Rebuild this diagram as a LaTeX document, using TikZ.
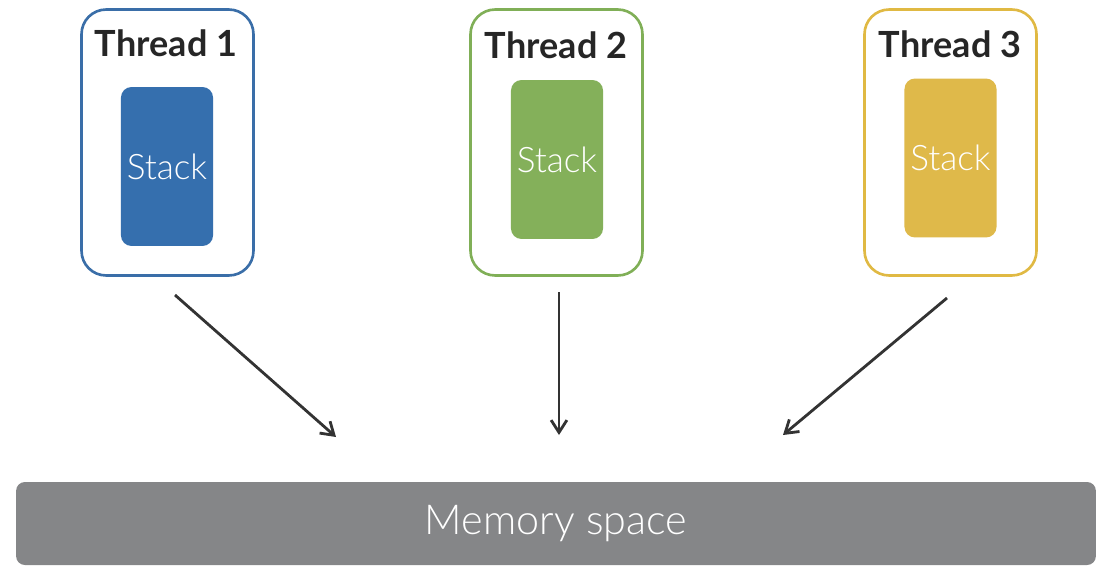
\documentclass[tikz,border=0pt]{standalone}
\usepackage{fontspec}
\setmainfont{Lato}
\newfontfamily\lightfont{Lato Light}
\usetikzlibrary{arrows.meta}
\definecolor{threadblue}{HTML}{3A6EA8}
\definecolor{threadgreen}{HTML}{80AF57}
\definecolor{threadyellow}{HTML}{E0B943}
\definecolor{stackblue}{HTML}{356FAE}
\definecolor{stackgreen}{HTML}{84B05A}
\definecolor{stackyellow}{HTML}{DFB94A}
\definecolor{memgray}{HTML}{858688}

\begin{document}
\begin{tikzpicture}
  [x=0.02cm, y=-0.02cm,
   thread/.style={draw, line width=1.5pt, rounded corners=14pt, fill=white,
                  minimum width=3.44cm, minimum height=5.32cm},
   stack/.style={rounded corners=6pt, minimum width=1.84cm, minimum height=3.18cm,
                 text=white, font=\lightfont\fontsize{20}{20}\selectfont},
   title/.style={anchor=base, text=black!85, font=\bfseries\fontsize{20.5}{20.5}\selectfont},
   memory/.style={fill=memgray, rounded corners=5pt, minimum width=21.6cm, minimum height=1.66cm,
                  text=white, font=\lightfont\fontsize{23.5}{23.5}\selectfont},
   link/.style={draw=black!80, line width=1.6pt, -{Straight Barb[length=7pt, width=9pt]}}]
  \useasboundingbox (0,0) rectangle (1113,576);
  \node[thread, draw=threadblue] (t1) at (167.5,142.5) {};
  \node[thread, draw=threadgreen] (t2) at (556.5,142.5) {};
  \node[thread, draw=threadyellow] (t3) at (950.5,142.5) {};
  \node[title] (n1) at (166,56) {Thread 1};
  \node[title] (n2) at (556,58) {Thread 2};
  \node[title] (n3) at (950,57) {Thread 3};
  \node[stack, fill=stackblue] (s1) at (167,166.5) {Stack};
  \node[stack, fill=stackgreen] (s2) at (557,159.5) {Stack};
  \node[stack, fill=stackyellow] (s3) at (950.5,158) {Stack};
  \node[memory] (mem) at (556,523.5) {Memory space};
  \coordinate (a1) at (175,295);
  \coordinate (a2) at (559,292);
  \coordinate (a3) at (947,298);
  \coordinate (b1) at (336,437);
  \coordinate (b2) at (559,435);
  \coordinate (b3) at (783,435);
  \draw[link] (a1) -- (b1);
  \draw[link] (a2) -- (b2);
  \draw[link] (a3) -- (b3);
\end{tikzpicture}
\end{document}
